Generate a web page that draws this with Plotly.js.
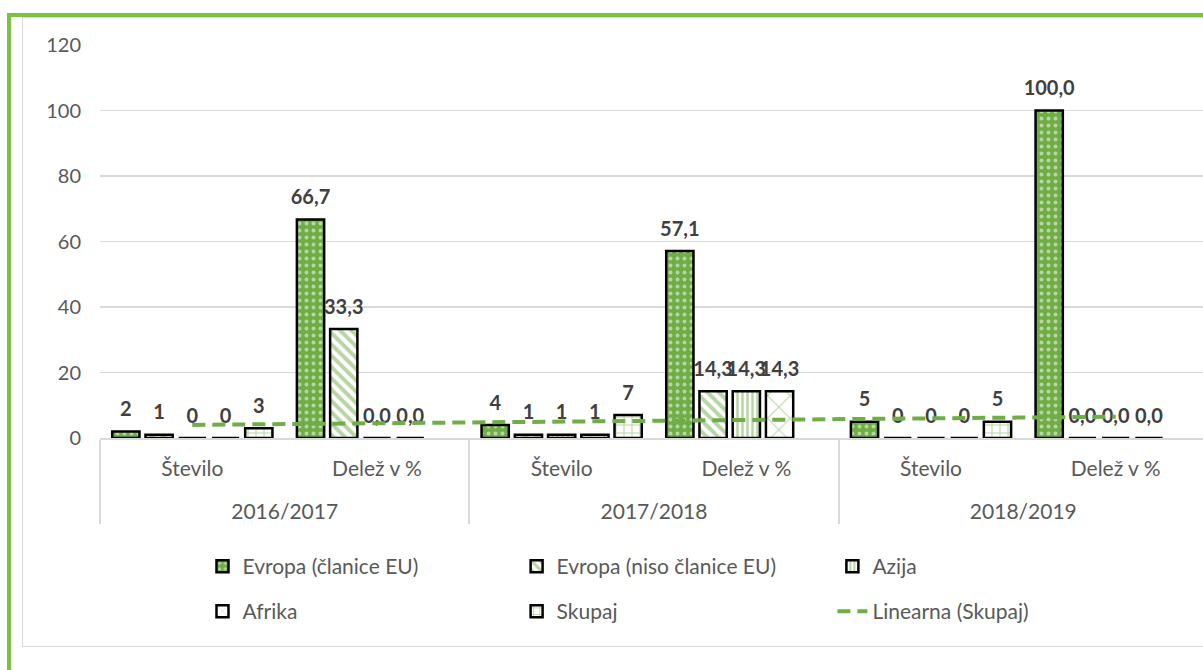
<!DOCTYPE html>
<html>
<head>
<meta charset="utf-8">
<script src="https://cdn.plot.ly/plotly-3.0.1.min.js"></script>
<style>
  html, body { margin:0; padding:0; width:1203px; height:670px; overflow:hidden; background:#fff; }
  #frame { position:absolute; left:7px; top:13px; width:1300px; height:700px;
           border-left:4px solid #7DC142; border-top:4px solid #7DC142; }
  #box { position:absolute; left:22px; top:17px; width:1200px; height:630px;
         border:1.5px solid #D9D9D9; box-sizing:border-box; background:#fff; }
  #chart { position:absolute; left:0; top:0; width:1197px; height:627px; }
</style>
</head>
<body>
<div id="frame"></div>
<div id="box"><div id="chart"></div></div>
<script>
// ---- data ----
const years = ['2016/2017','2016/2017','2017/2018','2017/2018','2018/2019','2018/2019'];
const subcats = ['Število','Delež v %','Število','Delež v %','Število','Delež v %'];
const evropaEU    = [2, 66.7, 4, 57.1, 5, 100.0];
const evropaNonEU = [1, 33.3, 1, 14.3, 0, 0.0];
const azija       = [0, 0.0, 1, 14.3, 0, 0.0];
const afrika      = [0, 0.0, 1, 14.3, 0, 0.0];
const skupaj      = [3, null, 7, null, 5, null];
const seriesNames = ['Evropa (članice EU)','Evropa (niso članice EU)','Azija','Afrika','Skupaj'];
const trendName = 'Linearna (Skupaj)';

const GREEN = '#70AD47';
// inner labels get an empty second line so the year row sits lower, as in the original
const x = [years, subcats.map(s => s + '<br>\u00a0')];

function labels(vals) {
  return vals.map((v, i) => {
    if (v === null) return null;
    return subcats[i] === 'Število' ? String(Math.round(v)) : v.toFixed(1).replace('.', ',');
  });
}

// linear trendline (least squares over category index) of Skupaj
function trend(vals) {
  const pts = [];
  vals.forEach((v, i) => { if (v !== null) pts.push([i + 1, v]); });
  const n = pts.length;
  const mx = pts.reduce((s, p) => s + p[0], 0) / n;
  const my = pts.reduce((s, p) => s + p[1], 0) / n;
  let num = 0, den = 0;
  pts.forEach(p => { num += (p[0] - mx) * (p[1] - my); den += (p[0] - mx) ** 2; });
  const b = num / den, a = my - b * mx;
  return vals.map((v, i) => a + b * (i + 1));
}

const patterns = [
  {shape: '.', bgcolor: GREEN, fgcolor: '#ffffff', size: 7, solidity: 0.25, fillmode: 'overlay'},
  {shape: '\\', bgcolor: '#ffffff', fgcolor: GREEN, size: 8, solidity: 0.5, fillmode: 'overlay'},
  {shape: '|', bgcolor: '#ffffff', fgcolor: GREEN, size: 5, solidity: 0.5, fillmode: 'overlay'},
  {shape: 'x', bgcolor: '#ffffff', fgcolor: GREEN, size: 16, solidity: 0.12, fillmode: 'overlay'},
  {shape: '+', bgcolor: '#ffffff', fgcolor: GREEN, size: 8, solidity: 0.25, fillmode: 'overlay'}
];
const allSeries = [evropaEU, evropaNonEU, azija, afrika, skupaj];
const legendIds = ['legend','legend2','legend3','legend4','legend5','legend6'];

const traces = allSeries.map((vals, k) => ({
  type: 'bar',
  name: seriesNames[k],
  x: x,
  y: vals,
  offsetgroup: 'g' + k,
  marker: {
    color: patterns[k].bgcolor,
    pattern: patterns[k],
    line: {color: '#000000', width: 2.5}
  },
  legend: legendIds[k],
  hoverinfo: 'skip'
}));

// data labels, grouped the same way as the bars (invisible markers give the gap above the bar)
allSeries.forEach((vals, k) => {
  traces.push({
    type: 'scatter',
    mode: 'markers+text',
    x: x,
    y: vals,
    offsetgroup: 'g' + k,
    text: labels(vals),
    textposition: 'top center',
    cliponaxis: false,
    marker: {size: 15, color: 'rgba(0,0,0,0)', line: {width: 0}},
    textfont: {family: 'Lato, sans-serif', size: 20, color: '#404040', weight: 'bold'},
    showlegend: false,
    hoverinfo: 'skip'
  });
});

// trendline on its own (hidden) category axis so it is not shifted by the label grouping
traces.push({
  type: 'scatter',
  mode: 'lines',
  name: trendName,
  x: x,
  y: trend(skupaj),
  xaxis: 'x2',
  line: {color: GREEN, width: 4, dash: '13px,7px'},
  legend: legendIds[5],
  hoverinfo: 'skip'
});

function legendAt(px, py) {
  return {
    orientation: 'h',
    x: px, y: py,
    xanchor: 'left',
    yanchor: 'middle',
    font: {family: 'Lato, sans-serif', size: 21, color: '#595959'},
    itemwidth: 30,
    bgcolor: 'rgba(0,0,0,0)',
    borderwidth: 0
  };
}
const colX = [0.0925, 0.376, 0.661];
const rowY = [-0.327, -0.4415];

const layout = {
  width: 1197,
  height: 627,
  margin: {l: 77, r: 12, t: 27, b: 207, autoexpand: false},
  paper_bgcolor: '#ffffff',
  plot_bgcolor: '#ffffff',
  font: {family: 'Lato, sans-serif', size: 20, color: '#595959'},
  barmode: 'group',
  bargap: 0.1,
  bargroupgap: 0.18,
  scattermode: 'group',
  scattergap: 0.1,
  showlegend: true,
  hovermode: false,
  xaxis: {
    type: 'multicategory',
    range: [-0.5, 5.5],
    showdividers: true,
    dividercolor: '#D9D9D9',
    dividerwidth: 2,
    showline: true,
    linecolor: '#D9D9D9',
    linewidth: 1.5,
    ticklabelstandoff: 11,
    tickfont: {family: 'Lato, sans-serif', size: 21, color: '#595959'},
    ticks: '',
    showgrid: false
  },
  xaxis2: {
    type: 'multicategory',
    overlaying: 'x',
    range: [-0.5, 5.5],
    visible: false
  },
  yaxis: {
    range: [0, 120],
    dtick: 20,
    showgrid: true,
    gridcolor: '#D9D9D9',
    gridwidth: 1.5,
    zeroline: false,
    showline: false,
    ticks: '',
    ticklabelstandoff: 18,
    tickfont: {family: 'Lato, sans-serif', size: 20, color: '#595959'}
  },
  legend:  legendAt(colX[0], rowY[0]),
  legend2: legendAt(colX[1], rowY[0]),
  legend3: legendAt(colX[2], rowY[0]),
  legend4: legendAt(colX[0], rowY[1]),
  legend5: legendAt(colX[1], rowY[1]),
  legend6: legendAt(colX[2], rowY[1])
};

Plotly.newPlot('chart', traces, layout, {displayModeBar: false, staticPlot: true});
</script>
</body>
</html>
